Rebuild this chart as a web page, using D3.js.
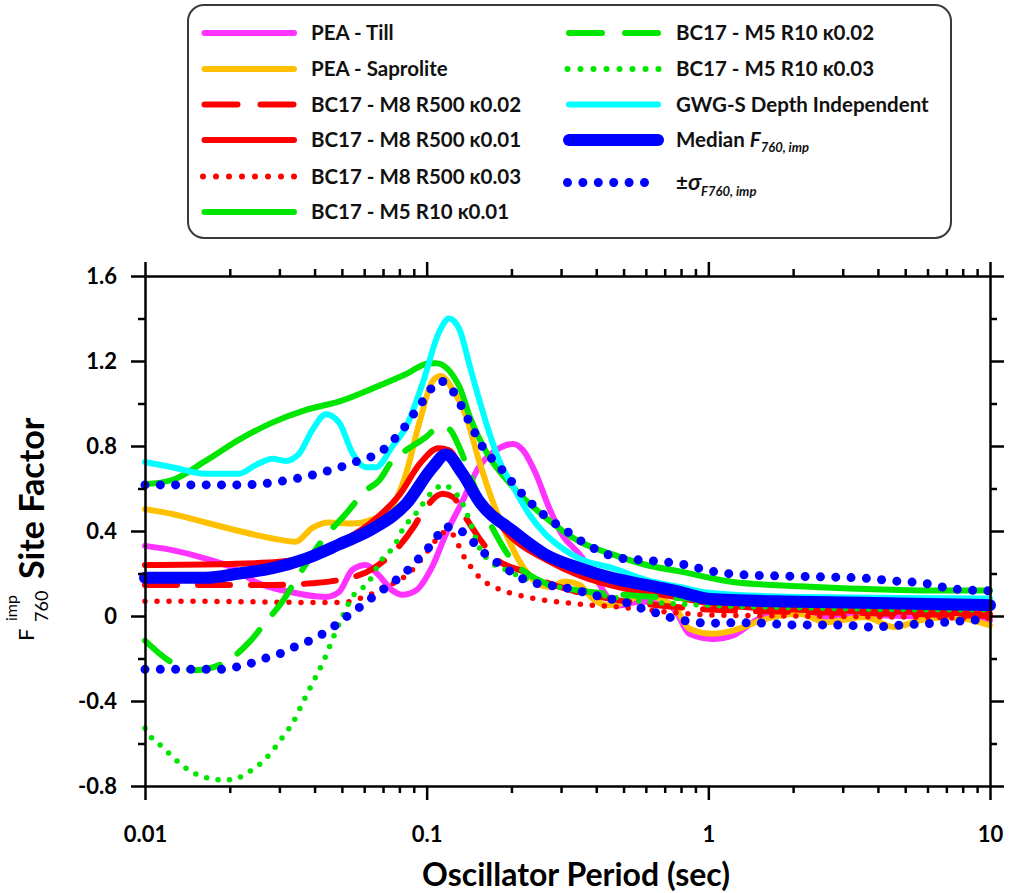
<!DOCTYPE html>
<html>
<head>
<meta charset="utf-8">
<script src="https://cdn.jsdelivr.net/npm/d3@7"></script>
<style>
  body { margin: 0; background: #fff; }
  svg { display: block; font-family: Lato, "Open Sans", sans-serif; }
</style>
</head>
<body>
<svg id="chart" width="1010" height="893"></svg>
<script>
// ---- data: [period (s), site factor] ----
const peaTill = [[0.01,0.33],[0.0125,0.31],[0.0164,0.27],[0.0206,0.225],[0.0247,0.16],[0.0325,0.114],[0.0438,0.09],[0.0489,0.114],[0.0545,0.218],[0.0608,0.24],[0.0678,0.19],[0.0756,0.12],[0.082,0.10],[0.0916,0.12],[0.104,0.225],[0.117,0.385],[0.134,0.54],[0.153,0.70],[0.176,0.78],[0.2025,0.81],[0.22,0.78],[0.244,0.67],[0.272,0.51],[0.302,0.385],[0.349,0.29],[0.399,0.178],[0.433,0.10],[0.483,0.05],[0.569,0.067],[0.688,0.067],[0.768,0.02],[0.856,-0.084],[1.036,-0.108],[1.23,-0.09],[1.48,-0.02],[1.93,0.02],[2.62,-0.005],[3.6,0.003],[5.0,0.0],[7.0,-0.005],[10,-0.02]];
const peaSaprolite = [[0.01,0.503],[0.0125,0.48],[0.0164,0.44],[0.0216,0.40],[0.0284,0.365],[0.0343,0.35],[0.0393,0.415],[0.045,0.44],[0.0546,0.435],[0.0642,0.455],[0.0757,0.52],[0.0845,0.67],[0.0942,0.91],[0.105,1.106],[0.112,1.13],[0.1236,1.067],[0.138,0.94],[0.1535,0.73],[0.1714,0.54],[0.1915,0.385],[0.2135,0.257],[0.244,0.16],[0.2718,0.138],[0.311,0.162],[0.349,0.146],[0.389,0.082],[0.434,0.051],[0.51,0.067],[0.584,0.099],[0.67,0.082],[0.767,0.035],[0.857,-0.06],[1.039,-0.084],[1.23,-0.068],[1.48,-0.029],[1.7,-0.005],[2.1,0.011],[2.62,-0.029],[3.6,-0.005],[4.58,-0.052],[5.65,-0.02],[7.2,-0.005],[10,-0.044]];
const bcM8k002 = [[0.01,0.146],[0.0216,0.146],[0.0284,0.146],[0.039,0.154],[0.049,0.17],[0.064,0.22],[0.072,0.27],[0.08,0.33],[0.09,0.42],[0.097,0.49],[0.114,0.575],[0.124,0.56],[0.138,0.46],[0.153,0.37],[0.176,0.27],[0.22,0.21],[0.264,0.16],[0.35,0.11],[0.5,0.07],[0.8,0.04],[1,0.03],[2,0.02],[5,0.01],[10,0.0]];
const bcM8k001 = [[0.01,0.24],[0.02,0.245],[0.03,0.255],[0.04,0.29],[0.05,0.35],[0.065,0.45],[0.08,0.57],[0.095,0.72],[0.11,0.79],[0.12,0.78],[0.14,0.63],[0.17,0.48],[0.2,0.37],[0.27,0.26],[0.35,0.19],[0.5,0.13],[0.8,0.085],[1,0.06],[2,0.03],[5,0.02],[10,0.01]];
const bcM8k003 = [[0.01,0.07],[0.02,0.068],[0.03,0.065],[0.04,0.063],[0.05,0.063],[0.058,0.083],[0.063,0.1],[0.069,0.13],[0.078,0.16],[0.088,0.21],[0.1,0.30],[0.11,0.37],[0.118,0.40],[0.126,0.37],[0.133,0.30],[0.142,0.24],[0.155,0.178],[0.178,0.13],[0.21,0.10],[0.26,0.075],[0.33,0.059],[0.5,0.04],[0.7,0.02],[1,0.005],[2,0.0],[5,-0.005],[10,-0.01]];
const bcM5k001 = [[0.01,0.62],[0.0125,0.64],[0.0164,0.73],[0.0216,0.83],[0.0283,0.91],[0.0373,0.97],[0.049,1.01],[0.064,1.07],[0.085,1.14],[0.102,1.19],[0.108,1.19],[0.1306,1.08],[0.142,0.94],[0.163,0.77],[0.2017,0.61],[0.266,0.46],[0.349,0.35],[0.457,0.29],[0.603,0.24],[0.791,0.21],[1.22,0.16],[2.11,0.14],[3.65,0.127],[6.28,0.12],[10,0.12]];
const bcM5k002 = [[0.01,-0.116],[0.0125,-0.22],[0.0151,-0.255],[0.0188,-0.225],[0.0234,-0.124],[0.0268,-0.029],[0.0307,0.067],[0.0352,0.194],[0.0438,0.376],[0.0516,0.48],[0.0608,0.59],[0.0678,0.638],[0.0757,0.733],[0.0845,0.78],[0.099,0.84],[0.111,0.89],[0.12,0.88],[0.13,0.80],[0.142,0.67],[0.158,0.51],[0.176,0.385],[0.2025,0.257],[0.231,0.194],[0.264,0.154],[0.35,0.12],[0.5,0.10],[1,0.08],[2,0.075],[5,0.07],[10,0.07]];
const bcM5k003 = [[0.01,-0.528],[0.0106,-0.576],[0.0115,-0.615],[0.0125,-0.662],[0.0143,-0.725],[0.016,-0.756],[0.0176,-0.768],[0.0193,-0.772],[0.0212,-0.764],[0.0234,-0.733],[0.0254,-0.701],[0.0272,-0.662],[0.0291,-0.615],[0.0312,-0.56],[0.0334,-0.505],[0.0362,-0.411],[0.0393,-0.317],[0.0432,-0.207],[0.0462,-0.113],[0.0502,-0.003],[0.0545,0.091],[0.0623,0.16],[0.0678,0.248],[0.0777,0.342],[0.082,0.405],[0.0916,0.483],[0.105,0.585],[0.114,0.616],[0.1236,0.593],[0.134,0.53],[0.1418,0.452],[0.1535,0.326],[0.1714,0.248],[0.1915,0.216],[0.2308,0.169],[0.35,0.12],[0.5,0.08],[1,0.05],[2,0.04],[5,0.03],[10,0.03]];
const gwgS = [[0.01,0.725],[0.0125,0.70],[0.0164,0.67],[0.0216,0.67],[0.0247,0.71],[0.0284,0.74],[0.0316,0.73],[0.0353,0.765],[0.0393,0.876],[0.0439,0.95],[0.0489,0.91],[0.0546,0.765],[0.0609,0.70],[0.066,0.70],[0.0757,0.80],[0.0845,0.89],[0.097,1.10],[0.111,1.34],[0.12,1.40],[0.1306,1.35],[0.142,1.18],[0.1535,1.02],[0.167,0.86],[0.181,0.73],[0.2025,0.61],[0.2308,0.48],[0.2637,0.385],[0.302,0.32],[0.349,0.27],[0.457,0.225],[0.6,0.17],[0.8,0.135],[1.0,0.11],[2,0.09],[5,0.085],[10,0.082]];
const medianF760 = [[0.01,0.18],[0.0164,0.18],[0.0216,0.20],[0.0284,0.225],[0.0373,0.27],[0.0489,0.337],[0.0642,0.41],[0.0845,0.527],[0.105,0.70],[0.117,0.76],[0.134,0.67],[0.1535,0.54],[0.2025,0.40],[0.2637,0.29],[0.349,0.225],[0.457,0.178],[0.6,0.146],[0.79,0.114],[1.01,0.08],[2.1,0.067],[4.8,0.059],[10,0.051]];
const sigmaUpper = [[0.01,0.617],[0.0216,0.617],[0.0343,0.646],[0.0438,0.68],[0.0559,0.725],[0.0699,0.78],[0.082,0.876],[0.095,0.995],[0.112,1.106],[0.1236,1.06],[0.1397,0.93],[0.1577,0.797],[0.1835,0.694],[0.2164,0.58],[0.2583,0.48],[0.3134,0.40],[0.3897,0.32],[0.4846,0.273],[0.6283,0.26],[0.8056,0.244],[1.033,0.21],[1.324,0.194],[2.17,0.186],[3.56,0.178],[4.56,0.165],[5.83,0.154],[7.46,0.127],[10,0.118]];
const sigmaLower = [[0.01,-0.251],[0.0188,-0.251],[0.0209,-0.241],[0.0237,-0.223],[0.0267,-0.199],[0.0299,-0.179],[0.0335,-0.149],[0.0377,-0.121],[0.0421,-0.089],[0.0467,-0.05],[0.0516,-0.006],[0.0567,0.033],[0.0623,0.075],[0.069,0.118],[0.0765,0.161],[0.0845,0.208],[0.0916,0.256],[0.1,0.311],[0.108,0.366],[0.115,0.42],[0.1306,0.405],[0.1418,0.366],[0.1535,0.319],[0.1685,0.272],[0.188,0.232],[0.2066,0.193],[0.2337,0.161],[0.2637,0.146],[0.298,0.138],[0.3366,0.122],[0.376,0.107],[0.4345,0.083],[0.4907,0.072],[0.5466,0.047],[0.6173,0.025],[0.688,0.005],[0.777,-0.016],[0.878,-0.027],[0.99,-0.034],[1.26,-0.032],[1.65,-0.034],[1.86,-0.042],[2.68,-0.042],[3.42,-0.047],[3.87,-0.053],[4.37,-0.047],[4.93,-0.042],[5.57,-0.038],[6.3,-0.034],[7.1,-0.028],[8.2,-0.022],[10,-0.016]];

const xTickValues = [0.01, 0.1, 1, 10];
const xTickLabels = ['0.01', '0.1', '1', '10'];
const yTickValues = [-0.8, -0.4, 0, 0.4, 0.8, 1.2, 1.6];
const yTickLabels = ['-0.8', '-0.4', '0', '0.4', '0.8', '1.2', '1.6'];
const yMinorValues = [-0.6, -0.2, 0.2, 0.6, 1.0, 1.4];

const seriesNames = ['PEA - Till', 'PEA - Saprolite', 'BC17 - M8 R500 \u03BA0.02', 'BC17 - M8 R500 \u03BA0.01',
  'BC17 - M8 R500 \u03BA0.03', 'BC17 - M5 R10 \u03BA0.01', 'BC17 - M5 R10 \u03BA0.02', 'BC17 - M5 R10 \u03BA0.03',
  'GWG-S Depth Independent', 'Median', '\u00B1\u03C3'];

// ---- styles (kept apart from the data) ----
const GREEN = '#00e600';
const series = [
  { name: seriesNames[0], data: [peaTill], color: '#ff33ff', width: 6 },
  { name: seriesNames[1], data: [peaSaprolite], color: '#ffc000', width: 6 },
  { name: seriesNames[2], data: [bcM8k002], color: '#ff0000', width: 6, dash: '32 21' },
  { name: seriesNames[3], data: [bcM8k001], color: '#ff0000', width: 6 },
  { name: seriesNames[4], data: [bcM8k003], color: '#ff0000', width: 5.5, dash: '0 12' },
  { name: seriesNames[5], data: [bcM5k001], color: GREEN, width: 6 },
  { name: seriesNames[6], data: [bcM5k002], color: GREEN, width: 6, dash: '32 21' },
  { name: seriesNames[7], data: [bcM5k003], color: GREEN, width: 5.5, dash: '0 11.5' },
  { name: seriesNames[8], data: [gwgS], color: '#00ffff', width: 6 },
  { name: seriesNames[9], data: [medianF760], color: '#0000ff', width: 12 },
  { name: seriesNames[10], data: [sigmaUpper, sigmaLower], color: '#0000ff', width: 9, dash: '0 15.3' }
];

const svg = d3.select('#chart');

const x = d3.scaleLog().domain([0.01, 10]).range([145, 990]);
const y = d3.scaleLinear().domain([-0.8, 1.6]).range([786, 276]);

// minor ticks of the log axis
const xMinorValues = [];
[0.01, 0.1, 1].forEach(d => { for (let k = 2; k <= 9; k++) xMinorValues.push(d * k); });
const xAll = xTickValues.concat(xMinorValues);
const isMajorX = v => xTickValues.some(m => Math.abs(m - v) / m < 1e-6);
const isMajorY = v => yTickValues.some(m => Math.abs(m - v) < 1e-6);
const yAll = yTickValues.concat(yMinorValues);

// ---- curves ----
const line = d3.line()
    .x(d => x(d[0]))
    .y(d => y(d[1]))
    .curve(d3.curveMonotoneX);

const plot = svg.append('g');
series.forEach(s => {
    s.data.forEach(arr => {
        plot.append('path')
            .datum(arr)
            .attr('d', line)
            .attr('fill', 'none')
            .attr('stroke', s.color)
            .attr('stroke-width', s.width)
            .attr('stroke-linecap', 'round')
            .attr('stroke-linejoin', 'round')
            .attr('stroke-dasharray', s.dash || null);
    });
});

// ---- axes (full frame) ----
function styleAxis(g) {
    g.select('.domain').attr('stroke', '#000').attr('stroke-width', 2.5);
    g.selectAll('.tick line').attr('stroke', '#000').attr('stroke-width', 2.5);
    g.selectAll('.tick text')
        .attr('fill', '#000')
        .attr('font-size', 22)
        .attr('font-weight', 700)
        .attr('font-family', 'Lato, "Open Sans", sans-serif');
}

const xLabel = d => { const i = xTickValues.findIndex(m => Math.abs(m - d) / m < 1e-6); return i >= 0 ? xTickLabels[i] : ''; };
const yLabel = d => { const i = yTickValues.findIndex(m => Math.abs(m - d) < 1e-6); return i >= 0 ? yTickLabels[i] : ''; };

const axB = svg.append('g').attr('transform', `translate(0,${y(-0.8)})`)
    .call(d3.axisBottom(x).tickValues(xAll).tickSize(14).tickSizeOuter(0).tickPadding(26).tickFormat(xLabel));
axB.selectAll('.tick line').attr('y2', d => isMajorX(d) ? 14 : 7);
styleAxis(axB);

const axT = svg.append('g').attr('transform', `translate(0,${y(1.6)})`)
    .call(d3.axisTop(x).tickValues(xAll).tickSize(14).tickSizeOuter(0).tickFormat(''));
axT.selectAll('.tick line').attr('y2', d => isMajorX(d) ? -14 : -7);
styleAxis(axT);

const axL = svg.append('g').attr('transform', `translate(${x(0.01)},0)`)
    .call(d3.axisLeft(y).tickValues(yAll).tickSize(14).tickSizeOuter(0).tickPadding(14).tickFormat(yLabel));
axL.selectAll('.tick line').attr('x2', d => isMajorY(d) ? -14 : -7);
styleAxis(axL);

const axR = svg.append('g').attr('transform', `translate(${x(10)},0)`)
    .call(d3.axisRight(y).tickValues(yAll).tickSize(14).tickSizeOuter(0).tickFormat(''));
axR.selectAll('.tick line').attr('x2', d => isMajorY(d) ? 14 : 7);
styleAxis(axR);

// ---- axis titles ----
svg.append('text')
    .attr('x', 576)
    .attr('y', 886)
    .attr('text-anchor', 'middle')
    .attr('font-size', 32)
    .attr('font-weight', 700)
    .text('Oscillator Period (sec)');

const yTitle = svg.append('g');
yTitle.append('text').attr('transform', 'translate(34,641) rotate(-90)')
    .attr('font-size', 22).text('F');
yTitle.append('text').attr('transform', 'translate(17,621) rotate(-90)')
    .attr('font-size', 16).text('imp');
yTitle.append('text').attr('transform', 'translate(48,622) rotate(-90)')
    .attr('font-size', 18).text('760');
yTitle.append('text').attr('transform', 'translate(44,579) rotate(-90)')
    .attr('font-size', 34).attr('font-weight', 700).text('Site Factor');

// ---- legend ----
const legend = svg.append('g');
legend.append('rect')
    .attr('x', 188).attr('y', 5).attr('width', 763).attr('height', 233)
    .attr('rx', 16).attr('ry', 16)
    .attr('fill', '#fff').attr('stroke', '#3a3a3a').attr('stroke-width', 2);

const colX = [{ x1: 204.5, x2: 294, tx: 311 }, { x1: 569, x2: 658, tx: 676 }];
const rowY = [33, 69, 104.5, 140, 176.5, 212];
const place = [[0,0],[0,1],[0,2],[0,3],[0,4],[0,5],[1,0],[1,1],[1,2],[1,3],[1,4]];

series.forEach((s, i) => {
    const [c, r] = place[i];
    const cy = rowY[r] + (c === 1 && r === 4 ? 6 : 0);
    const col = colX[c];
    const dotted = s.dash && s.dash.startsWith('0');
    const x1 = dotted ? col.x1 - 1.5 : col.x1;
    const x2 = (i === 10) ? col.x1 + 78 : col.x2 + (dotted ? 1.5 : 0);
    legend.append('line')
        .attr('x1', x1).attr('x2', x2)
        .attr('y1', cy).attr('y2', cy)
        .attr('stroke', s.color)
        .attr('stroke-width', s.width === 12 ? 12 : (i === 10 ? 9 : 6))
        .attr('stroke-linecap', 'round')
        .attr('stroke-dasharray', s.dash ? (dotted ? (i === 10 ? '0 15.4' : '0 13') : '33 23') : null);

    const t = legend.append('text')
        .attr('x', col.tx).attr('y', cy + 7)
        .attr('font-size', 20.5)
        .attr('font-weight', 700)
        .attr('fill', '#111');
    if (i === 9) {
        t.append('tspan').text(s.name + ' ');
        t.append('tspan').attr('font-style', 'italic').text('F');
        t.append('tspan').attr('font-style', 'italic').attr('font-size', 13).attr('dy', 5).text('760, imp');
    } else if (i === 10) {
        t.append('tspan').text('\u00B1');
        t.append('tspan').attr('font-style', 'italic').attr('font-size', 23).text('\u03C3');
        t.append('tspan').attr('font-style', 'italic').attr('font-size', 13).attr('dy', 6).text('F760, imp');
    } else {
        t.text(s.name);
    }
});
</script>
</body>
</html>
